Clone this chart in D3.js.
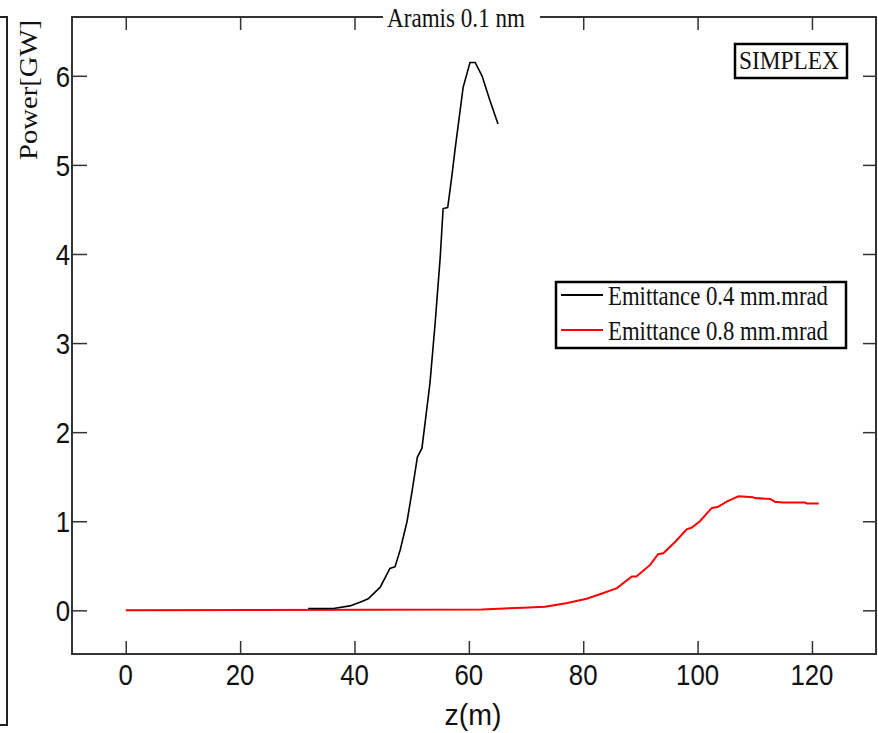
<!DOCTYPE html>
<html>
<head>
<meta charset="utf-8">
<script src="https://cdn.jsdelivr.net/npm/d3@7"></script>
<style>
  body { margin: 0; background: #fff; }
  svg { display: block; }
</style>
</head>
<body>
<div id="app"></div>
<script>
// data
const zBlack = [31.9, 36.3, 39.2, 41.3, 42.4, 44.5, 46.2, 47.1, 48, 49.2, 50.1, 51, 51.8, 53.2, 54.1, 55, 55.5, 56.3, 57, 57.6, 59, 60.2, 61.1, 62.3, 63.7, 65.1];
const pBlack = [0.02, 0.02, 0.05, 0.1, 0.13, 0.26, 0.47, 0.49, 0.68, 1.0, 1.35, 1.72, 1.82, 2.55, 3.22, 3.97, 4.51, 4.52, 4.86, 5.18, 5.87, 6.15, 6.15, 6.0, 5.72, 5.46];

const zRed = [0, 62.3, 69.5, 73.3, 77, 80.6, 82.9, 85.9, 88.5, 89.3, 91.7, 93.1, 94, 96.1, 98.1, 99, 100.4, 102.5, 103.5, 105.1, 106.8, 107.2, 109.7, 110, 112.7, 113.5, 114.9, 118.8, 119.1, 121.2];
const pRed = [0, 0.01, 0.03, 0.04, 0.08, 0.13, 0.18, 0.25, 0.38, 0.38, 0.51, 0.63, 0.64, 0.77, 0.91, 0.93, 1.0, 1.15, 1.16, 1.22, 1.27, 1.28, 1.27, 1.26, 1.25, 1.22, 1.21, 1.21, 1.2, 1.2];

const xTicks = [0, 20, 40, 60, 80, 100, 120];
const yTicks = [0, 1, 2, 3, 4, 5, 6];
const seriesNames = ['Emittance 0.4 mm.mrad', 'Emittance 0.8 mm.mrad'];
const seriesColors = ['#000', '#ff0000'];

const W = 878, H = 733;
const box = { left: 72, top: 17, right: 876, bottom: 654 };

const svg = d3.select('#app')
  .append('svg')
  .attr('width', W)
  .attr('height', H);

const x = d3.scaleLinear().domain([-9.4, 131.2]).range([box.left, box.right]);
const y = d3.scaleLinear().domain([-0.49, 6.66]).range([box.bottom, box.top]);

// squash text horizontally (the original is a narrow rendering)
const squash = (sel, k) => {
  sel.each(function () {
    const len = this.getComputedTextLength();
    d3.select(this).attr('textLength', len * k).attr('lengthAdjust', 'spacingAndGlyphs');
  });
};

// left bracket line
svg.append('path')
  .attr('d', 'M0,17 H7 V725 H0')
  .attr('fill', 'none')
  .attr('stroke', '#222')
  .attr('stroke-width', 2);

// curves
const line = d3.line().x(d => x(d[0])).y(d => y(d[1]));

svg.append('path')
  .datum(zRed.map((z, i) => [z, pRed[i]]))
  .attr('d', line)
  .attr('fill', 'none')
  .attr('stroke', seriesColors[1])
  .attr('stroke-width', 2);

svg.append('path')
  .datum(zBlack.map((z, i) => [z, pBlack[i]]))
  .attr('d', line)
  .attr('fill', 'none')
  .attr('stroke', seriesColors[0])
  .attr('stroke-width', 1.6);

// axes (ticks pointing inward on all four sides)
const axisColor = '#333';
const styleAxis = g => {
  g.select('.domain').remove();
  g.selectAll('.tick line').attr('stroke', axisColor).attr('stroke-width', 1.5);
};

svg.append('g')
  .attr('transform', `translate(0,${box.bottom})`)
  .call(d3.axisBottom(x).tickValues(xTicks).tickSize(-13).tickFormat(''))
  .call(styleAxis);
svg.append('g')
  .attr('transform', `translate(0,${box.top})`)
  .call(d3.axisTop(x).tickValues(xTicks).tickSize(-13).tickFormat(''))
  .call(styleAxis);
svg.append('g')
  .attr('transform', `translate(${box.left},0)`)
  .call(d3.axisLeft(y).tickValues(yTicks).tickSize(-15).tickFormat(''))
  .call(styleAxis);
svg.append('g')
  .attr('transform', `translate(${box.right},0)`)
  .call(d3.axisRight(y).tickValues(yTicks).tickSize(-13).tickFormat(''))
  .call(styleAxis);

svg.append('rect')
  .attr('x', box.left)
  .attr('y', box.top)
  .attr('width', box.right - box.left)
  .attr('height', box.bottom - box.top)
  .attr('fill', 'none')
  .attr('stroke', axisColor)
  .attr('stroke-width', 2);

// tick labels
const sans = 'Arial, "Liberation Sans", sans-serif';
const serif = '"Times New Roman", "Liberation Serif", serif';

svg.append('g')
  .selectAll('text')
  .data(xTicks)
  .join('text')
  .attr('x', d => x(d))
  .attr('y', 685)
  .attr('text-anchor', 'middle')
  .attr('font-family', sans)
  .attr('font-size', 30)
  .attr('fill', '#111')
  .text(d => d)
  .call(squash, 0.86);

svg.append('g')
  .selectAll('text')
  .data(yTicks)
  .join('text')
  .attr('x', 70)
  .attr('y', d => y(d) + 11)
  .attr('text-anchor', 'end')
  .attr('font-family', sans)
  .attr('font-size', 30)
  .attr('fill', '#111')
  .text(d => d)
  .call(squash, 0.86);

// axis titles
svg.append('text')
  .attr('x', 473)
  .attr('y', 725)
  .attr('text-anchor', 'middle')
  .attr('font-family', sans)
  .attr('font-size', 30)
  .attr('fill', '#111')
  .text('z(m)')
  .call(squash, 0.95);

svg.append('text')
  .attr('transform', 'translate(37,90) rotate(-90)')
  .attr('text-anchor', 'middle')
  .attr('font-family', serif)
  .attr('font-size', 26)
  .attr('fill', '#111')
  .attr('textLength', 140)
  .attr('lengthAdjust', 'spacingAndGlyphs')
  .text('Power[GW]');

// title on white patch over top border
svg.append('rect')
  .attr('x', 383)
  .attr('y', 5)
  .attr('width', 157)
  .attr('height', 25)
  .attr('fill', '#fff');

svg.append('text')
  .attr('x', 387)
  .attr('y', 27)
  .attr('font-family', serif)
  .attr('font-size', 27)
  .attr('fill', '#111')
  .attr('textLength', 138)
  .attr('lengthAdjust', 'spacingAndGlyphs')
  .text('Aramis 0.1 nm');

// SIMPLEX box
svg.append('rect')
  .attr('x', 735)
  .attr('y', 44)
  .attr('width', 112)
  .attr('height', 34)
  .attr('fill', '#fff')
  .attr('stroke', '#000')
  .attr('stroke-width', 2.5);

svg.append('text')
  .attr('x', 739)
  .attr('y', 69)
  .attr('font-family', serif)
  .attr('font-size', 26)
  .attr('fill', '#111')
  .attr('textLength', 100)
  .attr('lengthAdjust', 'spacingAndGlyphs')
  .text('SIMPLEX');

// legend
const legend = svg.append('g');

legend.append('rect')
  .attr('x', 556)
  .attr('y', 282)
  .attr('width', 290)
  .attr('height', 66)
  .attr('fill', '#fff')
  .attr('stroke', '#000')
  .attr('stroke-width', 2.5);

const rows = legend.selectAll('g.row')
  .data(seriesNames)
  .join('g')
  .attr('class', 'row')
  .attr('transform', (d, i) => `translate(0,${295 + i * 35})`);

rows.append('line')
  .attr('x1', 561)
  .attr('x2', 603)
  .attr('stroke', (d, i) => seriesColors[i])
  .attr('stroke-width', 2);

rows.append('text')
  .attr('x', 608)
  .attr('y', 10)
  .attr('font-family', serif)
  .attr('font-size', 27)
  .attr('fill', '#111')
  .attr('textLength', 220)
  .attr('lengthAdjust', 'spacingAndGlyphs')
  .text(d => d);
</script>
</body>
</html>
